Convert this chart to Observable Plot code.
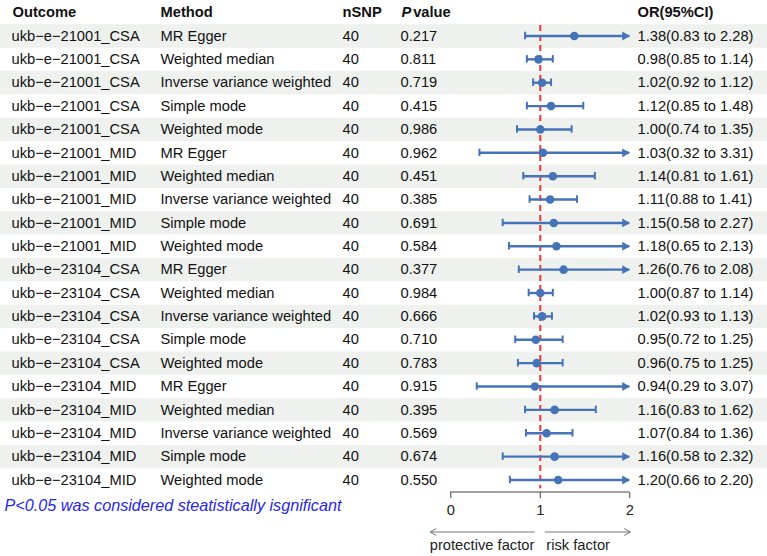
<!DOCTYPE html>
<html>
<head>
<meta charset="utf-8">
<script src="https://cdn.jsdelivr.net/npm/d3@7"></script>
<script src="https://cdn.jsdelivr.net/npm/@observablehq/plot@0.6"></script>
<style>
  body { margin: 0; background: #fff; }
  svg { display: block; }
</style>
</head>
<body>
<div id="chart"></div>
<script>
// Mendelian randomization results: one row per outcome × method
const outcomes = [
  "ukb−e−21001_CSA", "ukb−e−21001_CSA", "ukb−e−21001_CSA", "ukb−e−21001_CSA", "ukb−e−21001_CSA",
  "ukb−e−21001_MID", "ukb−e−21001_MID", "ukb−e−21001_MID", "ukb−e−21001_MID", "ukb−e−21001_MID",
  "ukb−e−23104_CSA", "ukb−e−23104_CSA", "ukb−e−23104_CSA", "ukb−e−23104_CSA", "ukb−e−23104_CSA",
  "ukb−e−23104_MID", "ukb−e−23104_MID", "ukb−e−23104_MID", "ukb−e−23104_MID", "ukb−e−23104_MID"
];
const methodSet = ["MR Egger", "Weighted median", "Inverse variance weighted", "Simple mode", "Weighted mode"];
const methods = [...methodSet, ...methodSet, ...methodSet, ...methodSet];
const nsnp = [40, 40, 40, 40, 40, 40, 40, 40, 40, 40, 40, 40, 40, 40, 40, 40, 40, 40, 40, 40];
const pvalues = [0.217, 0.811, 0.719, 0.415, 0.986, 0.962, 0.451, 0.385, 0.691, 0.584,
                 0.377, 0.984, 0.666, 0.710, 0.783, 0.915, 0.395, 0.569, 0.674, 0.550];
const orValues = [1.38, 0.98, 1.02, 1.12, 1.00, 1.03, 1.14, 1.11, 1.15, 1.18,
                  1.26, 1.00, 1.02, 0.95, 0.96, 0.94, 1.16, 1.07, 1.16, 1.20];
const ciLower = [0.83, 0.85, 0.92, 0.85, 0.74, 0.32, 0.81, 0.88, 0.58, 0.65,
                 0.76, 0.87, 0.93, 0.72, 0.75, 0.29, 0.83, 0.84, 0.58, 0.66];
const ciUpper = [2.28, 1.14, 1.12, 1.48, 1.35, 3.31, 1.61, 1.41, 2.27, 2.13,
                 2.08, 1.14, 1.13, 1.25, 1.25, 3.07, 1.62, 1.36, 2.32, 2.20];
const xTicks = [0, 1, 2];
const caption = "P<0.05 was considered steatistically isgnificant";

// forest panel shows OR on [0, 2]; intervals beyond it end in an arrow
const xMax = 2;
const f2 = d3.format(".2f");
const f3 = d3.format(".3f");

const rows = outcomes.map((outcome, i) => ({
  row: i,
  outcome,
  method: methods[i],
  nsnp: nsnp[i],
  p: f3(pvalues[i]),
  or: orValues[i],
  lo: ciLower[i],
  hi: ciUpper[i],
  hiDraw: Math.min(ciUpper[i], xMax),
  clipped: ciUpper[i] > xMax,
  label: `${f2(orValues[i])}(${f2(ciLower[i])} to ${f2(ciUpper[i])})`
}));
const headerRow = -1;
const lastRow = rows.length - 1;

// layout
const W = 767, H = 556;
const zeroPx = 450.3, twoPx = 629.3;          // where OR = 0 and OR = 2 sit
const pxPerUnit = (twoPx - zeroPx) / 2;
const rowTop = 12.1, rowBottom = 479.5;        // header row and last row centres
const blue = "#4573b7";
const red = "#ee3535";
const band = "#eef1ee";
const fontSize = 14.7;
const rowStep = (rowBottom - rowTop) / (lastRow - headerRow);

const cols = { outcome: 11, method: 160, nsnp: 342, p: 400, or: 637 };

const textCol = (key, dx) =>
  Plot.text(rows, { y: "row", text: key, frameAnchor: "left", dx, textAnchor: "start", fill: "#111" });
const headCol = (label, dx, extra = {}) =>
  Plot.text([{ row: headerRow, label }], {
    y: "row", text: "label", frameAnchor: "left", dx, textAnchor: "start",
    fontWeight: "bold", fill: "#111", ...extra
  });

// axis domain line and the protective / risk arrows under it
function decorations(index, scales, values, dims) {
  const x = scales.x;
  const y0 = dims.height - dims.marginBottom;
  const g = d3.create("svg:g").attr("fill", "none");
  g.append("line")
    .attr("x1", x(0)).attr("x2", x(2)).attr("y1", y0).attr("y2", y0)
    .attr("stroke", "#444").attr("stroke-width", 1);
  const ya = y0 + 40;
  const arrow = (from, to) => {
    const s = Math.sign(to - from);
    g.append("line").attr("x1", from).attr("x2", to).attr("y1", ya).attr("y2", ya)
      .attr("stroke", "#666").attr("stroke-width", 0.9);
    g.append("path")
      .attr("d", `M${to - s * 6},${ya - 3.5}L${to},${ya}L${to - s * 6},${ya + 3.5}`)
      .attr("stroke", "#666").attr("stroke-width", 0.9);
  };
  arrow(x(1) - 5, x(0) - 20);
  arrow(x(1) + 5, x(2) + 1);
  return g.node();
}

const chart = Plot.plot({
  width: W,
  height: H,
  marginLeft: 0,
  marginRight: 0,
  marginTop: 0,
  marginBottom: H - 492,
  style: { fontFamily: "'Liberation Sans', Arial, sans-serif", fontSize: fontSize + "px", background: "#fff" },
  x: { domain: [-zeroPx / pxPerUnit, (W - zeroPx) / pxPerUnit] },
  y: { domain: [headerRow, lastRow], range: [rowTop, rowBottom], axis: null },
  marks: [
    // zebra shading on alternate rows
    Plot.ruleY(rows.filter(d => d.row % 2 === 0), { y: "row", stroke: band, strokeWidth: rowStep }),

    // table columns
    headCol("Outcome", cols.outcome + 1),
    headCol("Method", cols.method),
    headCol("nSNP", cols.nsnp),
    headCol("P", cols.p + 1, { fontStyle: "italic" }),
    headCol("value", cols.p + 12.7),
    headCol("OR(95%CI)", cols.or),
    textCol("outcome", cols.outcome),
    textCol("method", cols.method),
    textCol("nsnp", cols.nsnp),
    textCol("p", cols.p),
    textCol("label", cols.or),

    // reference line at OR = 1
    Plot.ruleX([1], {
      y1: headerRow + 0.55, y2: lastRow + 0.37,
      stroke: red, strokeWidth: 2, strokeDasharray: "6,4"
    }),

    // confidence intervals
    Plot.ruleY(rows, { y: "row", x1: "lo", x2: "hiDraw", stroke: blue, strokeWidth: 2.4 }),
    Plot.ruleX(rows, { x: "lo", y1: d => d.row - 0.16, y2: d => d.row + 0.16, stroke: blue, strokeWidth: 2 }),
    Plot.ruleX(rows.filter(d => !d.clipped), { x: "hi", y1: d => d.row - 0.16, y2: d => d.row + 0.16, stroke: blue, strokeWidth: 2 }),
    Plot.dot(rows.filter(d => d.clipped), {
      x: "hiDraw", y: "row", symbol: "triangle", r: 3.3, rotate: 90, dx: -5, fill: blue, stroke: "none"
    }),
    Plot.dot(rows, { x: "or", y: "row", r: 4.3, fill: blue, stroke: "none" }),

    // x axis
    Plot.axisX(xTicks, {
      anchor: "bottom", tickSize: 6, tickPadding: 6, label: null,
      tickFormat: d => String(d), color: "#222", fontSize: fontSize, stroke: "#444"
    }),
    decorations,
    Plot.text(["protective factor"], {
      x: () => 1, frameAnchor: "bottom", lineAnchor: "middle", dy: 53, dx: -6,
      textAnchor: "end", fill: "#222", text: d => d
    }),
    Plot.text(["risk factor"], {
      x: () => 1, frameAnchor: "bottom", lineAnchor: "middle", dy: 53, dx: 6,
      textAnchor: "start", fill: "#222", text: d => d
    }),

    // footnote
    Plot.text([caption], {
      frameAnchor: "bottom-left", lineAnchor: "middle", dx: 4, dy: 13, textAnchor: "start",
      fill: "#2626ee", fontStyle: "italic", fontSize: 16.2, text: d => d
    })
  ]
});

document.getElementById("chart").append(chart);
</script>
</body>
</html>
